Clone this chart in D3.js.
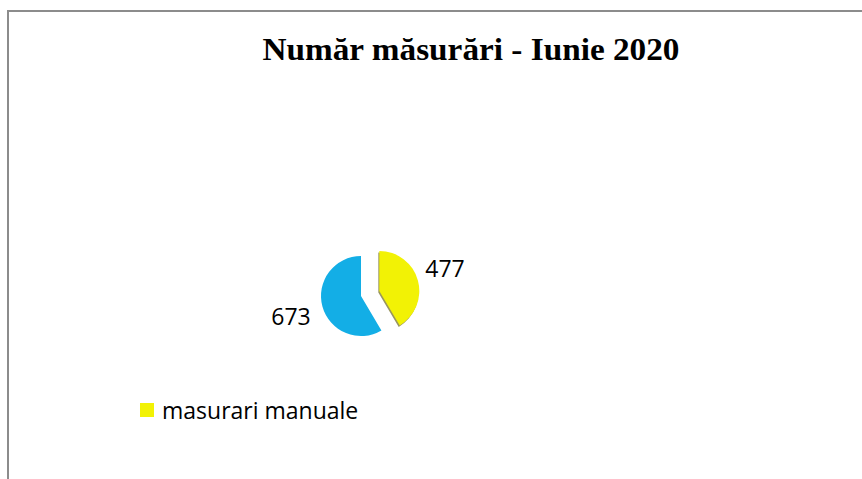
<!DOCTYPE html>
<html>
<head>
<meta charset="utf-8">
<script src="https://cdn.jsdelivr.net/npm/d3@7"></script>
<style>
  html, body { margin: 0; padding: 0; background: #fff; }
  svg { display: block; }
</style>
</head>
<body>
<div id="chart"></div>
<script>
// date
const categories = ["masurari manuale", "masurari automate"];
const values = [477, 673];
const colors = ["#f2f205", "#13aee6"];
const legendItems = ["masurari manuale"];
const title = "Număr măsurări - Iunie 2020";

const W = 862, H = 479;
const svg = d3.select("#chart").append("svg")
  .attr("width", W).attr("height", H);

// chenar
svg.append("path")
  .attr("d", `M8,${H}V11H${W}`)
  .attr("fill", "none").attr("stroke", "#8c8c8c").attr("stroke-width", 2);

// titlu
svg.append("text")
  .attr("x", 471).attr("y", 60)
  .attr("text-anchor", "middle")
  .attr("textLength", 417).attr("lengthAdjust", "spacingAndGlyphs")
  .style("font-family", "'Liberation Serif', 'DejaVu Serif', serif")
  .style("font-weight", "bold")
  .style("font-size", "32px")
  .text(title);

// pie
const cx = 361, cy = 296, r = 40, explode = 19;
const pie = d3.pie().sort(null).startAngle(0).endAngle(2 * Math.PI);
const arcs = pie(values);
const arc = d3.arc().innerRadius(0).outerRadius(r);

const g = svg.append("g").attr("transform", `translate(${cx},${cy})`);

arcs.forEach((a, i) => {
  const mid = (a.startAngle + a.endAngle) / 2;
  const off = i === 0 ? explode : 0;
  const dx = off * Math.sin(mid), dy = -off * Math.cos(mid);
  const sg = g.append("g").attr("transform", `translate(${dx},${dy})`);
  // umbra pentru efect 3D (doar felia galbena)
  if (i === 0) {
    sg.append("path")
      .attr("d", arc(a))
      .attr("transform", "translate(-1,1.5)")
      .attr("fill", "#6e6a1a")
      .attr("opacity", 0.7);
  }
  sg.append("path")
    .attr("d", arc(a))
    .attr("fill", colors[i]);
});

// etichete
const labelPos = [[445, 277], [291, 325]];
arcs.forEach((a, i) => {
  svg.append("text")
    .attr("x", labelPos[i][0]).attr("y", labelPos[i][1])
    .attr("text-anchor", "middle")
    .style("font-family", "'Open Sans', 'Liberation Sans', sans-serif")
    .style("font-size", "23px")
    .attr("fill", "#000")
    .text(values[i]);
});

// legenda
const lg = svg.append("g").attr("transform", "translate(140,403)");
legendItems.forEach((name, i) => {
  lg.append("rect").attr("x", 0).attr("y", 0).attr("width", 14).attr("height", 14)
    .attr("fill", colors[categories.indexOf(name)]);
  lg.append("text").attr("x", 22).attr("y", 16)
    .style("font-family", "'Open Sans', 'Liberation Sans', sans-serif")
    .style("font-size", "23px")
    .text(name);
});
</script>
</body>
</html>
